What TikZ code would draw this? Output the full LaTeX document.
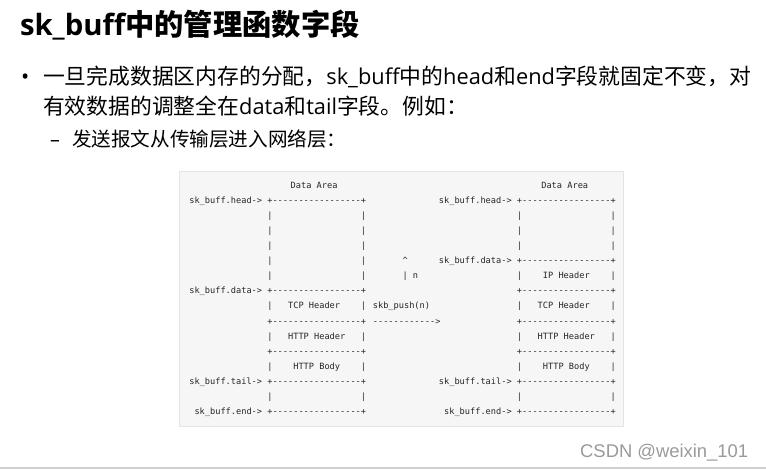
\documentclass[tikz,border=0pt]{standalone}
\usepackage{fontspec}
\setmainfont{Noto Sans CJK SC}
\setmonofont{DejaVu Sans Mono}
\newfontfamily\lat{Open Sans}
\newfontfamily\wmfont{Liberation Sans}
\definecolor{codebg}{HTML}{F6F6F6}
\definecolor{codeborder}{HTML}{E4E4E4}
\definecolor{codefg}{HTML}{262626}
\definecolor{wmgray}{HTML}{9A9A9A}
\definecolor{linegray}{HTML}{D0D0D0}
\newcommand\bxline{+-----------------+}
\begin{document}
\begin{tikzpicture}[x=1pt,y=-1pt,
  code/.style={font=\ttfamily\fontsize{8.64}{10}\selectfont, text=codefg, anchor=base west, inner sep=0pt, outer sep=0pt},
  txt/.style={anchor=base west, inner sep=0pt, outer sep=0pt, text=black},
  lvone/.style={txt, font=\fontsize{21.8}{24}\selectfont},
  lvtwo/.style={txt, font=\fontsize{19.6}{22}\selectfont}]
\useasboundingbox (0,0) rectangle (766,469);
\fill[white] (0,0) rectangle (766,469);

% title
\node[txt, font=\fontsize{29.3}{32}\selectfont\bfseries] (title) at (20,35) {{\lat sk\_buff}中的管理函数字段};

% bullet lines
\node[lvone] (b1) at (21,84) {{\lat •}};
\node[lvone] (l1) at (43,84) {一旦完成数据区内存的分配，{\lat sk\_buff}中的{\lat head}和{\lat end}字段就固定不变，对};
\node[lvone] (l2) at (43,114) {有效数据的调整全在{\lat data}和{\lat tail}字段。例如：};
\node[lvtwo] (d1) at (50,146) {{\lat –}};
\node[lvtwo] (l3) at (72,146) {发送报文从传输层进入网络层：};

% code box
\draw[fill=codebg, draw=codeborder, line width=0.8pt] (179,171) rectangle (623,426);

\begin{scope}[shift={(189.3,188.5)}, x=5.2pt, y=-15.06pt]
  % left panel
  \node[code] (ldataarea) at (19.5,0) {Data Area};
  \node[code] (lhead) at (0,1) {sk\_buff.head->};
  \node[code] (ldata) at (0,7) {sk\_buff.data->};
  \node[code] (ltail) at (0,13) {sk\_buff.tail->};
  \node[code] (lend) at (1,15) {sk\_buff.end->};
  \foreach \r in {1,7,9,11,13,15} \node[code] (lb\r) at (15,\r) {\bxline};
  \foreach \r in {2,3,4,5,6,8,10,12,14} {
    \node[code] (ll\r) at (15,\r) {|};
    \node[code] (lr\r) at (33,\r) {|};
  }
  \node[code] (ltcp) at (19,8) {TCP Header};
  \node[code] (lhttph) at (19,10) {HTTP Header};
  \node[code] (lhttpb) at (20,12) {HTTP Body};
  % middle
  \node[code] (caret) at (41,5) {\textasciicircum};
  \node[code] (nbar) at (41,6) {| n};
  \node[code] (push) at (35.3,8) {skb\_push(n)};
  \node[code] (pusharrow) at (35.3,9) {------------>};
  % right panel
  \node[code] (rdataarea) at (67.7,0) {Data Area};
  \node[code] (rhead) at (48,1) {sk\_buff.head->};
  \node[code] (rdata) at (48,5) {sk\_buff.data->};
  \node[code] (rtail) at (48,13) {sk\_buff.tail->};
  \node[code] (rend) at (49,15) {sk\_buff.end->};
  \foreach \r in {1,5,7,9,11,13,15} \node[code] (rb\r) at (63,\r) {\bxline};
  \foreach \r in {2,3,4,6,8,10,12,14} {
    \node[code] (rl\r) at (63,\r) {|};
    \node[code] (rr\r) at (81,\r) {|};
  }
  \node[code] (rip) at (68,6) {IP Header};
  \node[code] (rtcp) at (67,8) {TCP Header};
  \node[code] (rhttph) at (67,10) {HTTP Header};
  \node[code] (rhttpb) at (68,12) {HTTP Body};
\end{scope}

% watermark and bottom rule
\node[anchor=base west, inner sep=0pt, text=wmgray, font=\wmfont\fontsize{18.4}{20}\selectfont] (wm) at (580,457) {CSDN @weixin\_101};
\draw[draw=linegray, line width=2pt] (0,467.5) -- (766,467.5);
\end{tikzpicture}
\end{document}
